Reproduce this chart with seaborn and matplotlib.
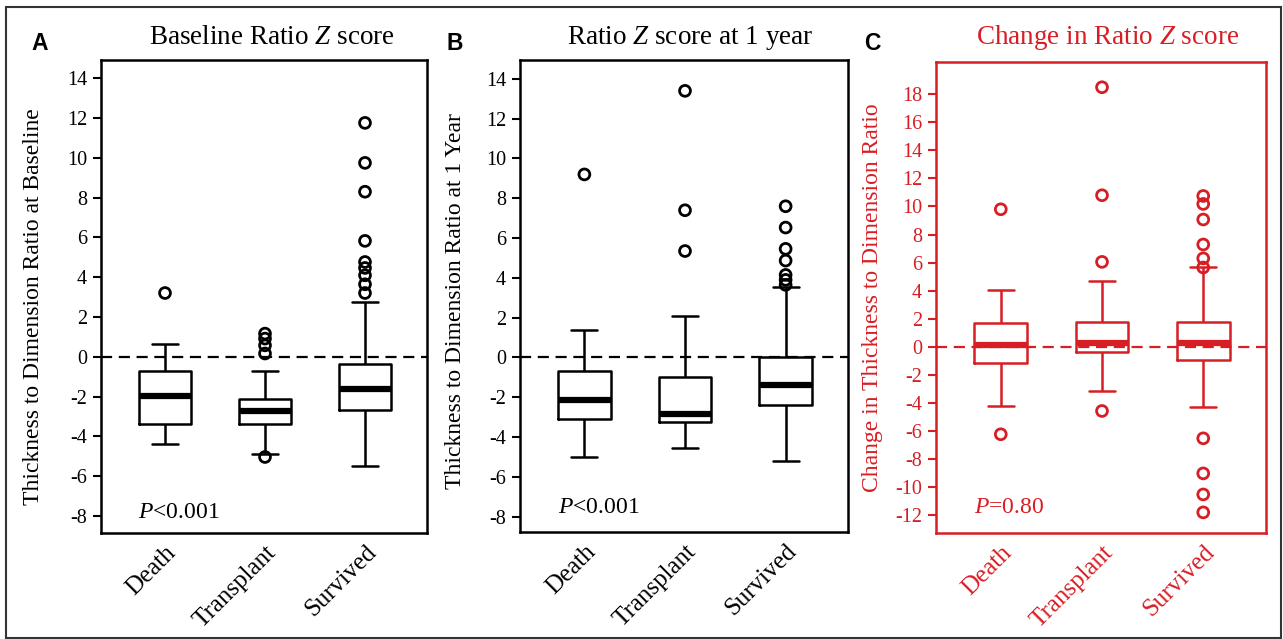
import numpy as np
import pandas as pd
import matplotlib
matplotlib.use("Agg")
import matplotlib.pyplot as plt
from matplotlib.patches import Rectangle
import seaborn as sns

# groups on the x axis
categories = ['Death', 'Transplant', 'Survived']

# box summaries per group: [lower whisker, Q1, median, Q3, upper whisker]
baseline_boxes = [[-4.4, -3.35, -1.97, -0.73, 0.67],
                  [-4.89, -3.39, -2.72, -2.1, -0.71],
                  [-5.5, -2.65, -1.6, -0.34, 2.76]]
baseline_fliers = [[3.21],
                   [1.17, 0.92, 0.58, 0.17, -5.03],
                   [11.76, 9.75, 8.3, 5.83, 4.77, 4.47, 4.1, 3.65, 3.21]]

year1_boxes = [[-5.0, -3.08, -2.13, -0.67, 1.4],
               [-4.55, -3.24, -2.84, -0.98, 2.1],
               [-5.2, -2.39, -1.37, 0.0, 3.52]]
year1_fliers = [[9.2],
                [13.4, 7.4, 5.35],
                [7.6, 6.53, 5.46, 4.87, 4.15, 3.9, 3.65]]

change_boxes = [[-4.22, -1.13, 0.15, 1.72, 4.08],
                [-3.15, -0.41, 0.3, 1.77, 4.7],
                [-4.28, -0.95, 0.24, 1.74, 5.66]]
change_fliers = [[9.8, -6.24],
                 [18.5, 10.8, 6.05, -4.58],
                 [10.75, 10.18, 9.07, 7.29, 6.3, 5.65, -6.53, -9.03, -10.53, -11.81]]

RED = '#d71e24'
W, H = 1283, 639

sns.set_theme(style='ticks')
plt.rcParams['font.family'] = ['Liberation Serif', 'DejaVu Serif']
plt.rcParams['mathtext.fontset'] = 'custom'
plt.rcParams['mathtext.rm'] = 'Liberation Serif'
plt.rcParams['mathtext.it'] = 'Liberation Serif:italic'
plt.rcParams['axes.unicode_minus'] = False
plt.rcParams['text.color'] = 'black'


def to_frame(groups):
    return pd.DataFrame({
        'group': np.repeat(categories, [len(g) for g in groups]),
        'value': np.concatenate(groups),
    })


def draw_panel(ax, boxes, fliers, color, ylim, yticks, ylabel, label_xy, ptext, ptext_y):
    ax.axhline(0, color=color, lw=1.6, ls=(0, (5, 3)), zorder=1)
    sns.boxplot(data=to_frame(boxes), x='group', y='value', order=categories, ax=ax,
                whis=(0, 100), width=0.52, fill=False, color=color, linewidth=1.8,
                showfliers=False, medianprops={'linewidth': 4.5})
    sns.stripplot(data=to_frame(fliers), x='group', y='value', order=categories, ax=ax,
                  jitter=False, size=7.8, color=color, facecolor='none',
                  edgecolor=color, linewidth=2.0, zorder=4)
    ax.set_xlim(-0.64, 2.62)
    ax.set_ylim(*ylim)
    ax.set_yticks(yticks)
    ax.set_xlabel('')
    ax.set_ylabel(ylabel, fontsize=17, color=color)
    ax.yaxis.set_label_coords(*label_xy)
    ax.tick_params(axis='y', direction='out', length=6, width=1.5, colors=color,
                   labelsize=14.5, pad=4)
    ax.tick_params(axis='x', length=0, labelsize=18, colors=color, pad=6)
    for lbl in ax.get_xticklabels():
        lbl.set_rotation(45)
        lbl.set_ha('right')
        lbl.set_rotation_mode('anchor')
    for sp in ax.spines.values():
        sp.set_visible(True)
        sp.set_linewidth(1.8)
        sp.set_color(color)
    ax.text(0.115, ptext_y, ptext, transform=ax.transAxes, fontsize=17,
            color=color, va='baseline', ha='left')


fig = plt.figure(figsize=(W / 100, H / 100), dpi=100)


def px_axes(left, right, top, bottom):
    return fig.add_axes([left / W, 1 - bottom / H, (right - left) / W, (bottom - top) / H])


ax_a = px_axes(101, 427, 60, 533)
ax_b = px_axes(520, 848, 60, 532)
ax_c = px_axes(936, 1266, 62, 533)

draw_panel(ax_a, baseline_boxes, baseline_fliers, 'black', (-8.85, 14.92),
           np.arange(-8, 15, 2), 'Thickness to Dimension Ratio at Baseline',
           (-0.175, 0.478), '$P$<0.001', 0.032)
draw_panel(ax_b, year1_boxes, year1_fliers, 'black', (-8.77, 14.95),
           np.arange(-8, 15, 2), 'Thickness to Dimension Ratio at 1 Year',
           (-0.165, 0.489), '$P$<0.001', 0.04)
draw_panel(ax_c, change_boxes, change_fliers, RED, (-13.28, 20.3),
           np.arange(-12, 19, 2), 'Change in Thickness to Dimension Ratio',
           (-0.16, 0.50), '$P$=0.80', 0.042)

# panel titles
titles = ['Baseline Ratio $Z$ score', 'Ratio $Z$ score at 1 year', 'Change in Ratio $Z$ score']
title_x = [272, 690, 1108]
title_colors = ['black', 'black', RED]
for t, x, c in zip(titles, title_x, title_colors):
    fig.text(x / W, 1 - 38 / H, t, ha='center', va='center', fontsize=19.5, color=c)

# panel letters
for letter, x in zip(['A', 'B', 'C'], [40, 455, 872]):
    fig.text(x / W, 1 - 44 / H, letter, ha='center', va='center', fontsize=16.5,
             fontweight='bold', color='black', family=['Liberation Sans', 'DejaVu Sans'])

# outer frame
fig.add_artist(Rectangle((6 / W, 1 - 638 / H), (1281 - 6) / W, (638 - 7) / H,
                         transform=fig.transFigure, fill=False, lw=1.5,
                         ec='#333333', clip_on=False))

fig.savefig('out.png', dpi=100)
